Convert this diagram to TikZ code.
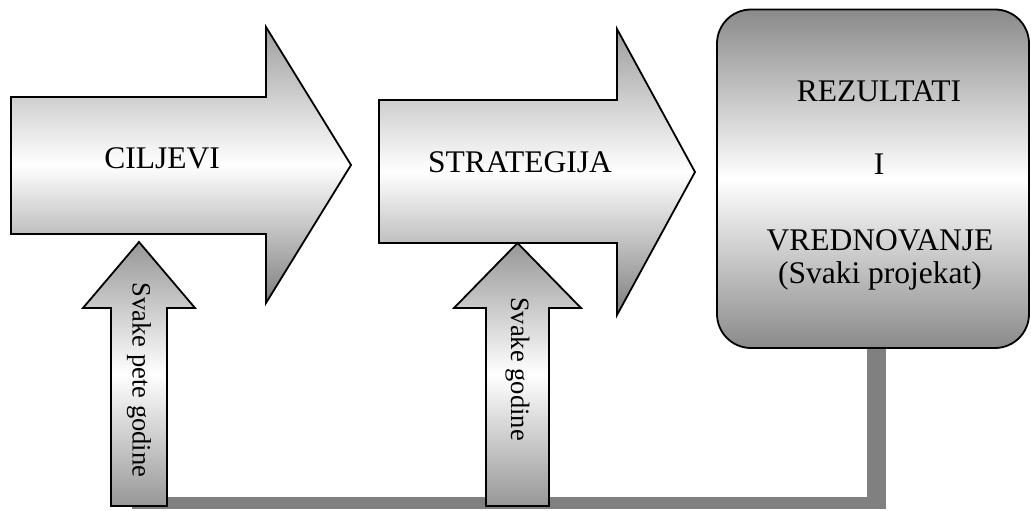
\documentclass[tikz,border=0pt]{standalone}
\usepackage{fontspec}
\setmainfont{Liberation Serif}
\definecolor{arrowtop}{HTML}{9E9E9E}
\definecolor{arrowbot}{HTML}{7E7E7E}
\definecolor{uptop}{HTML}{979797}
\definecolor{upbot}{HTML}{979797}
\definecolor{boxgray}{HTML}{8A8A8A}
\definecolor{linkgray}{HTML}{808080}
\begin{document}
\begin{tikzpicture}[x=1pt,y=1pt,
  outline/.style={draw=black,line width=1.8pt,line join=miter},
  flowarrow/.style={outline,top color=arrowtop,bottom color=arrowbot,middle color=white},
  uparrow/.style={outline,top color=uptop,bottom color=upbot,middle color=white},
  resbox/.style={outline,rounded corners=34pt,top color=boxgray,bottom color=boxgray,middle color=white,
    minimum width=312pt,minimum height=338.5pt,inner sep=0pt},
  bigtext/.style={font=\fontsize{31.5}{36}\selectfont,inner sep=0pt,anchor=base},
  sidetext/.style={font=\fontsize{26.5}{30}\selectfont,inner sep=0pt,rotate=-90},
  link/.style={draw=linkgray,line cap=butt}]
\useasboundingbox (0,-511) rectangle (1031,0);

% feedback line from the results box back to the first arrow
\coordinate (linkTop) at (876.5,-348);
\coordinate (linkFoot) at (876.5,-509);
\coordinate (linkCorner) at (885.75,-503);
\coordinate (linkEnd) at (132,-503);
\draw[link,line width=18.5pt] (linkTop) -- (linkFoot);
\draw[link,line width=12pt] (linkCorner) -- (linkEnd);

% results box
\node[resbox] (rez) at (873,-178.75) {};
\node[bigtext] (rez1) at (879,-101) {REZULTATI};
\node[bigtext] (rez2) at (879,-174) {I};
\node[bigtext] (rez3) at (880,-250) {VREDNOVANJE};
\node[bigtext] (rez4) at (880,-283) {(Svaki projekat)};

% main flow arrows
\path[flowarrow] (11,-97) -- (266,-97) -- (266,-27) -- (351,-165) -- (266,-303) -- (266,-234) -- (11,-234) -- cycle;
\node[bigtext] (ciljevi) at (162,-168) {CILJEVI};
\path[flowarrow] (379,-100) -- (617,-100) -- (617,-29) -- (695,-172) -- (617,-315) -- (617,-243) -- (379,-243) -- cycle;
\node[bigtext] (strategija) at (520,-172) {STRATEGIJA};

% review-cycle arrows
\path[uparrow] (139,-242) -- (195,-308) -- (167,-308) -- (167,-506) -- (111,-506) -- (111,-308) -- (83,-308) -- cycle;
\node[sidetext] (pete) at (139,-380) {Svake pete godine};
\path[uparrow] (517.5,-243) -- (581,-308) -- (549,-308) -- (549,-506) -- (486,-506) -- (486,-308) -- (454,-308) -- cycle;
\node[sidetext] (godine) at (517.5,-369) {Svake godine};
\end{tikzpicture}
\end{document}
